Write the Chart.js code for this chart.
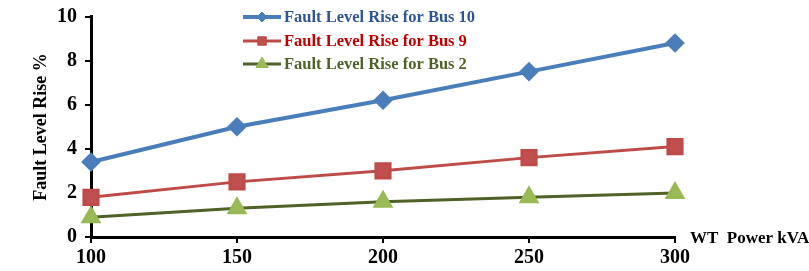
<!DOCTYPE html>
<html>
<head>
<meta charset="utf-8">
<script src="https://cdn.jsdelivr.net/npm/chart.js@4"></script>
<style>
  html, body { margin: 0; padding: 0; background: #fff; }
  #wrap { width: 809px; height: 271px; }
</style>
</head>
<body>
<div id="wrap"><canvas id="faultChart" width="809" height="271"></canvas></div>
<script>
// WT power (kVA) on the x axis
const powerKVA = [100, 150, 200, 250, 300];
// Fault level rise % per bus
const bus10Rise = [3.4, 5.0, 6.2, 7.5, 8.8];
const bus9Rise = [1.8, 2.5, 3.0, 3.6, 4.1];
const bus2Rise = [0.9, 1.3, 1.6, 1.8, 2.0];

const seriesNames = ['Fault Level Rise for Bus 10', 'Fault Level Rise for Bus 9', 'Fault Level Rise for Bus 2'];
const xTitle = 'WT  Power kVA';
const yTitle = 'Fault Level Rise %';

const FONT = '"Liberation Serif", "Times New Roman", serif';

function toPoints(ys) {
    return powerKVA.map((x, i) => ({ x: x, y: ys[i] }));
}

// Legend drawn by hand: line + marker, text in its own colour
const customLegend = {
    id: 'customLegend',
    afterDraw(chart) {
        const ctx = chart.ctx;
        const rows = [
            { y: 17, text: '#2F5597', r: 5 },
            { y: 41, text: '#C00000', r: 6 },
            { y: 64, text: '#4F6228', r: 7 }
        ];
        ctx.save();
        rows.forEach((row, i) => {
            const ds = chart.data.datasets[i];
            ctx.strokeStyle = ds.borderColor;
            ctx.lineWidth = ds.borderWidth;
            ctx.beginPath();
            ctx.moveTo(243, row.y);
            ctx.lineTo(281, row.y);
            ctx.stroke();
            ctx.fillStyle = ds.pointBackgroundColor;
            ctx.strokeStyle = ds.pointBorderColor;
            ctx.lineWidth = 1;
            Chart.helpers.drawPoint(ctx, {
                pointStyle: ds.pointStyle,
                rotation: 0,
                radius: row.r,
                borderWidth: 1
            }, 262, row.y);
            ctx.fillStyle = row.text;
            ctx.font = 'bold 16.5px ' + FONT;
            ctx.textAlign = 'left';
            ctx.textBaseline = 'middle';
            ctx.fillText(ds.label, 284, row.y + 1);
        });
        ctx.restore();
    }
};

// Axis titles positioned like the original
const axisTitles = {
    id: 'axisTitles',
    afterDraw(chart) {
        const ctx = chart.ctx;
        const area = chart.chartArea;
        ctx.save();
        ctx.fillStyle = '#000';
        ctx.font = 'bold 17px ' + FONT;
        ctx.textBaseline = 'middle';
        ctx.textAlign = 'left';
        ctx.fillText(xTitle, area.right + 15, area.bottom + 2);
        ctx.font = 'bold 18px ' + FONT;
        ctx.translate(41, 127);
        ctx.rotate(-Math.PI / 2);
        ctx.textAlign = 'center';
        ctx.fillText(yTitle, 0, 0);
        ctx.restore();
    }
};

const ctx = document.getElementById('faultChart').getContext('2d');
new Chart(ctx, {
    type: 'line',
    data: {
        datasets: [{
            label: seriesNames[0],
            data: toPoints(bus10Rise),
            borderColor: '#4A7EBB',
            borderWidth: 4,
            pointStyle: 'rectRot',
            pointRadius: 7,
            pointBackgroundColor: '#4A7EBB',
            pointBorderColor: '#4A7EBB',
            clip: false
        }, {
            label: seriesNames[1],
            data: toPoints(bus9Rise),
            borderColor: '#BE4B48',
            borderWidth: 3,
            pointStyle: 'rect',
            pointRadius: 10,
            pointBackgroundColor: '#C0504D',
            pointBorderColor: '#BE4B48',
            clip: false
        }, {
            label: seriesNames[2],
            data: toPoints(bus2Rise),
            borderColor: '#4F6228',
            borderWidth: 3,
            pointStyle: 'triangle',
            pointRadius: 9,
            pointBackgroundColor: '#9BBB59',
            pointBorderColor: '#98B954',
            clip: false
        }]
    },
    options: {
        responsive: false,
        animation: false,
        layout: { padding: { left: 0, right: 134, top: 0, bottom: 0 } },
        plugins: {
            legend: { display: false },
            tooltip: { enabled: false }
        },
        scales: {
            x: {
                type: 'linear',
                min: 100,
                max: 300,
                afterFit: s => { s.height = 34; },
                afterBuildTicks: s => { s.ticks = powerKVA.map(v => ({ value: v })); },
                border: { color: '#000', width: 3 },
                grid: { drawOnChartArea: false, color: '#000', lineWidth: 2, tickLength: 6 },
                ticks: {
                    color: '#000',
                    padding: 3,
                    maxRotation: 0,
                    font: { family: FONT, size: 20, weight: 'bold' }
                }
            },
            y: {
                min: 0,
                max: 10,
                afterFit: s => { s.width = 91; s.paddingTop = 16.5; },
                border: { color: '#000', width: 3 },
                grid: { drawOnChartArea: false, color: '#000', lineWidth: 2, tickLength: 6 },
                ticks: {
                    stepSize: 2,
                    color: '#000',
                    padding: 8,
                    font: { family: FONT, size: 20, weight: 'bold' }
                }
            }
        }
    },
    plugins: [customLegend, axisTitles]
});
</script>
</body>
</html>
